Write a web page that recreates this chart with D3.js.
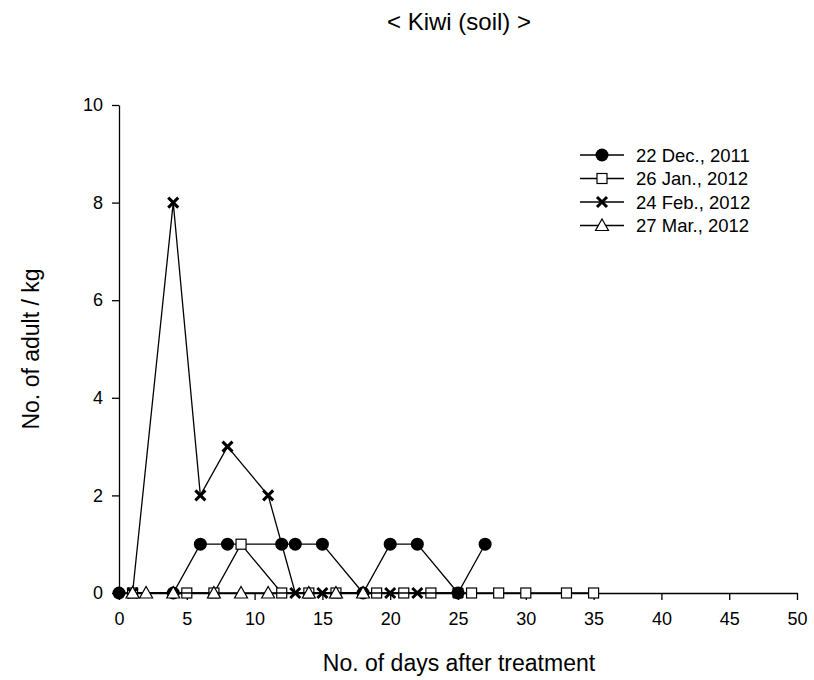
<!DOCTYPE html>
<meta charset="utf-8">
<style>
body { margin: 0; background: #fff; }
text { font-family: Arial, "Liberation Sans", sans-serif; fill: #000; }
.axis path, .axis line { stroke: #000; stroke-width: 1.3; }
.series { fill: none; stroke: #000; stroke-width: 1.3; }
</style>
<body>
<script src="https://cdnjs.cloudflare.com/ajax/libs/d3/7.8.5/d3.min.js"></script>
<script>
// data
var dec22Days = [0, 4, 6, 8, 12, 13, 15, 18, 20, 22, 25, 27];
var dec22Vals = [0, 0, 1, 1, 1, 1, 1, 0, 1, 1, 0, 1];

var jan26Days = [1, 5, 7, 9, 12, 14, 16, 19, 21, 23, 26, 28, 30, 33, 35];
var jan26Vals = [0, 0, 0, 1, 0, 0, 0, 0, 0, 0, 0, 0, 0, 0, 0];

var feb24Days = [1, 4, 6, 8, 11, 13, 15, 20, 22, 25];
var feb24Vals = [0, 8, 2, 3, 2, 0, 0, 0, 0, 0];

var mar27Days = [1, 2, 4, 7, 9, 11, 14, 16, 18];
var mar27Vals = [0, 0, 0, 0, 0, 0, 0, 0, 0];

var seriesNames = ["22 Dec., 2011", "26 Jan., 2012", "24 Feb., 2012", "27 Mar., 2012"];
var xTicks = [0, 5, 10, 15, 20, 25, 30, 35, 40, 45, 50];
var yTicks = [0, 2, 4, 6, 8, 10];

var width = 814, height = 680;
var margin = {left: 119, right: 17, top: 105, bottom: 87};

var svg = d3.select("body").append("svg")
  .attr("width", width)
  .attr("height", height);

var x = d3.scaleLinear().domain([0, 50]).range([margin.left, width - margin.right]);
var y = d3.scaleLinear().domain([0, 10]).range([height - margin.bottom, margin.top]);

svg.append("g").attr("class", "axis")
  .attr("transform", "translate(0," + y(0) + ")")
  .call(d3.axisBottom(x).tickValues(xTicks).tickSize(7).tickSizeOuter(0).tickPadding(12))
  .selectAll("text").style("font-size", "18px");

svg.append("g").attr("class", "axis")
  .attr("transform", "translate(" + x(0) + ",0)")
  .call(d3.axisLeft(y).tickValues(yTicks).tickSize(7).tickSizeOuter(0).tickPadding(9))
  .selectAll("text").style("font-size", "18px");

svg.append("text")
  .attr("x", (x(0) + x(50)) / 2 + 1).attr("y", 671)
  .attr("text-anchor", "middle").style("font-size", "23px")
  .text("No. of days after treatment");

svg.append("text")
  .attr("transform", "translate(39," + y(5) + ") rotate(-90)")
  .attr("text-anchor", "middle").style("font-size", "23px")
  .text("No. of adult / kg");

svg.append("text")
  .attr("x", (x(0) + x(50)) / 2 + 1).attr("y", 30)
  .attr("text-anchor", "middle").style("font-size", "24px")
  .text("< Kiwi (soil) >");

function pairs(days, vals) {
  return days.map(function(d, i) { return {d: d, v: vals[i]}; });
}

var series = [
  {name: seriesNames[0], data: pairs(dec22Days, dec22Vals), sym: "circle"},
  {name: seriesNames[1], data: pairs(jan26Days, jan26Vals), sym: "square"},
  {name: seriesNames[2], data: pairs(feb24Days, feb24Vals), sym: "cross"},
  {name: seriesNames[3], data: pairs(mar27Days, mar27Vals), sym: "triangle"}
];

var line = d3.line().x(function(p) { return x(p.d); }).y(function(p) { return y(p.v); });

function drawMarker(g, sym) {
  if (sym === "circle") {
    g.append("circle").attr("r", 6.5).attr("fill", "#000");
  } else if (sym === "square") {
    g.append("rect").attr("x", -5).attr("y", -5).attr("width", 10).attr("height", 10)
      .attr("fill", "#fff").attr("stroke", "#000").attr("stroke-width", 1.2);
  } else if (sym === "cross") {
    g.append("path").attr("d", "M-5,-5L5,5M-5,5L5,-5")
      .attr("stroke", "#000").attr("stroke-width", 3).attr("fill", "none");
  } else {
    g.append("path").attr("d", "M0,-6.5L6.5,5L-6.5,5Z")
      .attr("fill", "#fff").attr("stroke", "#000").attr("stroke-width", 1.2);
  }
}

series.forEach(function(s) {
  svg.append("path").attr("class", "series").attr("d", line(s.data));
  s.data.forEach(function(p) {
    var g = svg.append("g").attr("transform", "translate(" + x(p.d) + "," + y(p.v) + ")");
    drawMarker(g, s.sym);
  });
});

// legend
var legend = svg.append("g").attr("transform", "translate(580,155)");
series.forEach(function(s, i) {
  var row = legend.append("g").attr("transform", "translate(0," + (i * 23.5) + ")");
  row.append("line").attr("x1", 0).attr("x2", 44).attr("y1", 0).attr("y2", 0)
    .attr("stroke", "#000").attr("stroke-width", 1.3);
  drawMarker(row.append("g").attr("transform", "translate(22,0)"), s.sym);
  row.append("text").attr("x", 56).attr("y", 6.5).style("font-size", "18.5px").text(s.name);
});
</script>
